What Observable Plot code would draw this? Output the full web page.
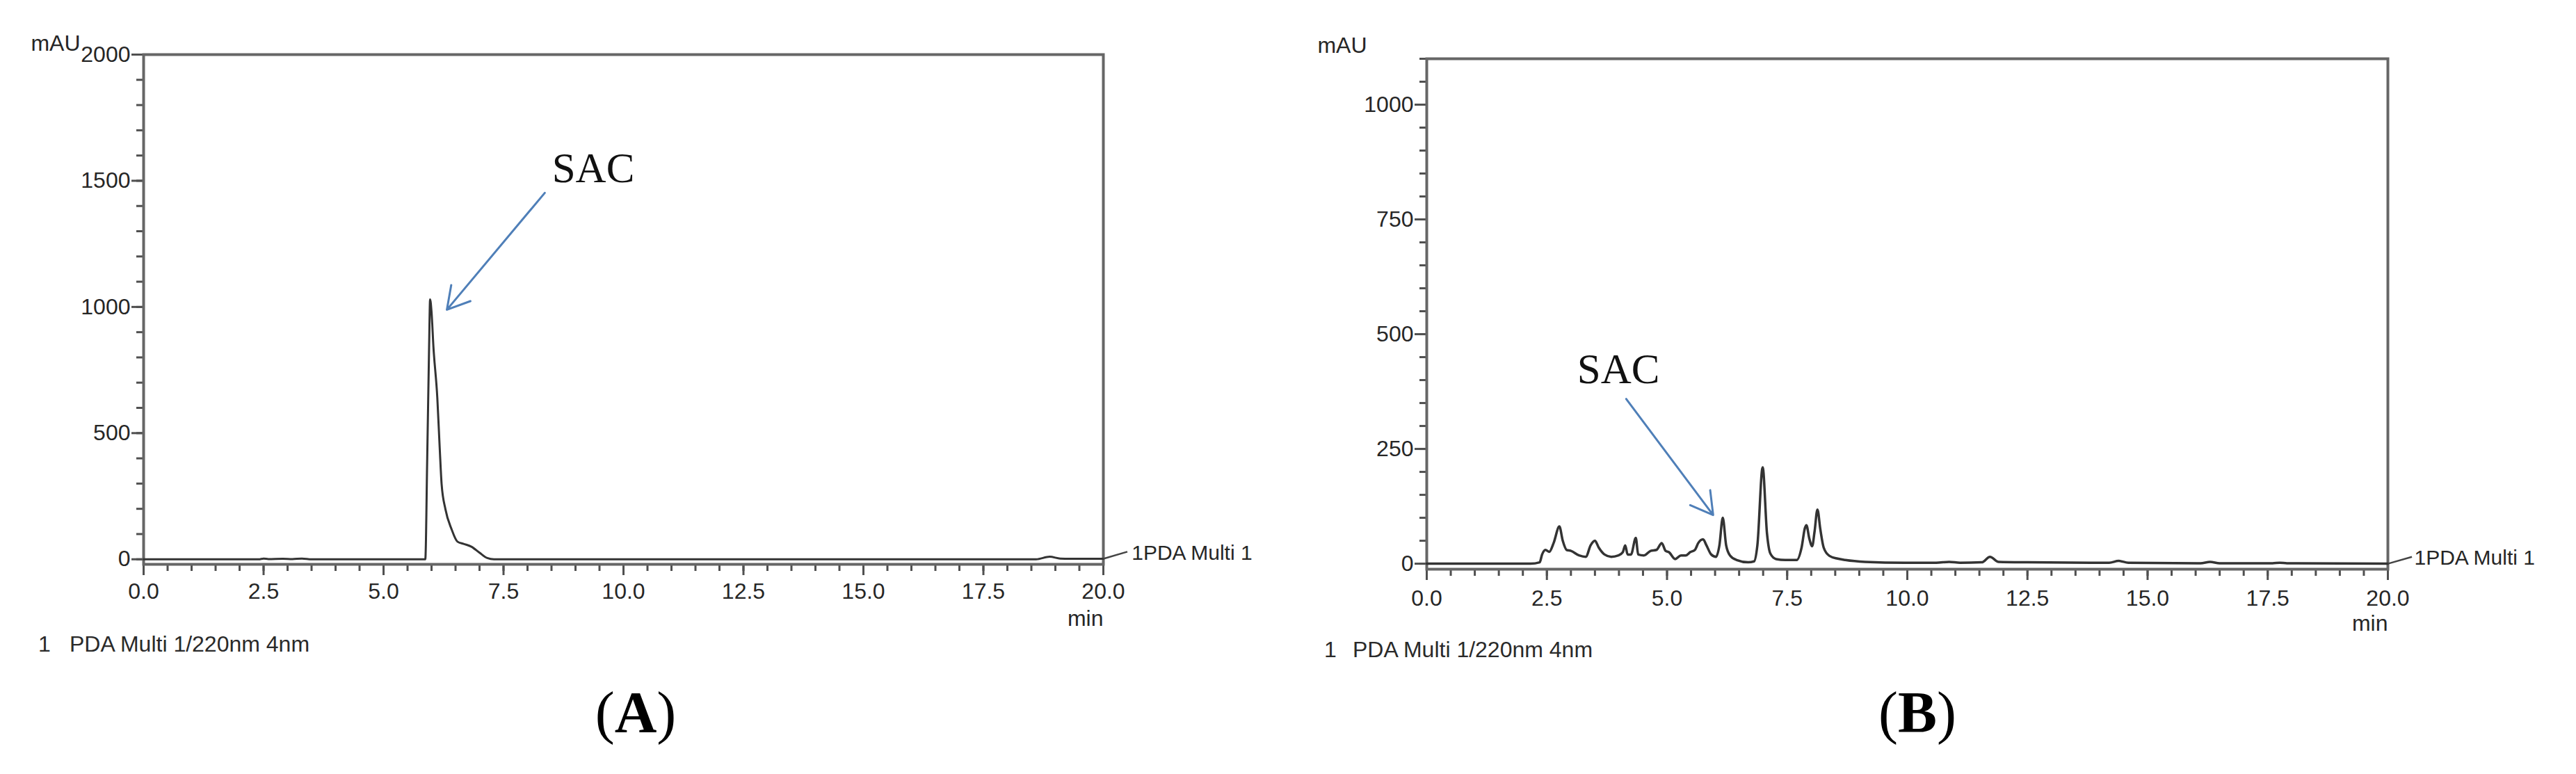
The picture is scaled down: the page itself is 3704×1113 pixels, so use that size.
<!DOCTYPE html>
<html>
<head>
<meta charset="utf-8">
<script src="https://cdn.jsdelivr.net/npm/d3@7"></script>
<script src="https://cdn.jsdelivr.net/npm/@observablehq/plot@0.6"></script>
<style>
  html, body { margin: 0; padding: 0; background: #fff; }
  #fig { position: relative; width: 3704px; height: 1113px; background: #fff; overflow: hidden; }
  .panel { position: absolute; top: 0; }
  .cap { position: absolute; font-family: "Liberation Sans", Arial, sans-serif; font-size: 32px; line-height: 32px; color: #2a2a2a; white-space: pre; }
  .tag { position: absolute; width: 200px; text-align: center; font-family: "Liberation Serif", "Times New Roman", serif; font-size: 84px; line-height: 84px; color: #000; }
  .tag b { font-weight: bold; }
</style>
</head>
<body>
<div id="fig">
  <div id="panelA" class="panel" style="left:0px"></div>
  <div id="panelB" class="panel" style="left:1850px"></div>
  <div class="cap" style="left:55px;top:910px">1</div>
  <div class="cap" style="left:100px;top:910px">PDA Multi 1/220nm 4nm</div>
  <div class="cap" style="left:1904px;top:918px">1</div>
  <div class="cap" style="left:1945px;top:918px">PDA Multi 1/220nm 4nm</div>
  <div class="tag" style="left:814px;top:983px">(<b>A</b>)</div>
  <div class="tag" style="left:2657px;top:983px">(<b>B</b>)</div>
</div>
<script>
// ---------- data ----------
// Panel A: retention time (min) and absorbance (mAU)
const timeA  = [0, 2.4, 2.5, 2.6, 2.9, 3.1, 3.3, 3.5, 5.87, 5.91, 5.95, 5.97, 6.0, 6.04, 6.12, 6.17, 6.21, 6.29, 6.42, 6.54, 6.67, 6.83, 7.0, 7.16, 7.3, 18.6, 18.88, 19.1, 19.3, 20];
const valueA = [0, 0, 3, 1, 2, 1, 3, 0, 0, 400, 850, 1030, 980, 840, 641, 443, 298, 198, 118, 70, 61, 50, 26, 5, 0, 0, 10, 3, 2, 2];

// Panel B
const timeB  = [0, 2.16, 2.35, 2.40, 2.47, 2.55, 2.64, 2.76, 2.83, 2.91, 3.0, 3.17, 3.31, 3.41, 3.50, 3.58, 3.70, 3.84, 3.99, 4.08, 4.13, 4.18, 4.25, 4.35, 4.40, 4.52, 4.66, 4.78, 4.89, 4.97, 5.04, 5.17, 5.29, 5.39, 5.48, 5.58, 5.65, 5.75, 5.82, 5.92, 6.02, 6.09, 6.16, 6.23, 6.31, 6.45, 6.69, 6.81, 6.88, 6.99, 7.08, 7.15, 7.27, 7.46, 7.70, 7.80, 7.87, 7.90, 7.96, 8.02, 8.07, 8.13, 8.19, 8.26, 8.38, 8.55, 8.71, 9.12, 9.95, 10.6, 10.87, 11.1, 11.55, 11.72, 11.9, 12.5, 14.2, 14.4, 14.6, 16.1, 16.3, 16.5, 17.6, 17.75, 17.9, 20];
const valueB = [0, 0, 3, 20, 30, 26, 45, 81, 50, 30, 28, 18, 15, 40, 50, 35, 20, 15, 18, 25, 40, 20, 20, 56, 20, 18, 28, 30, 45, 28, 25, 10, 18, 18, 25, 30, 45, 53, 40, 20, 15, 40, 100, 40, 18, 8, 3, 5, 40, 210, 66, 22, 10, 8, 8, 35, 78, 84, 55, 38, 70, 118, 75, 35, 17, 11, 8, 4, 2, 2, 4, 2, 3, 15, 4, 3, 2, 6, 2, 1, 4, 1, 1, 2, 1, 0];

// Axis ticks
const xMajorTicks = [0, 2.5, 5, 7.5, 10, 12.5, 15, 17.5, 20];
const yMajorTicksA = [0, 500, 1000, 1500, 2000];
const yMajorTicksB = [0, 250, 500, 750, 1000];
const yDomainA = [-20, 2000];
const yDomainB = [-12, 1100];

// Annotations (data units)
const sacLabelA = [8.51, 1493];
const sacArrowA = [8.36, 1452, 6.32, 989];
const sacLabelB = [3.13, 394];
const sacArrowB = [4.15, 359, 5.96, 106];
const traceName = "1PDA Multi 1";
const unitY = "mAU";
const unitX = "min";

// ---------- drawing ----------
const dataA = timeA.map((t, i) => ({t, v: valueA[i]}));
const dataB = timeB.map((t, i) => ({t, v: valueB[i]}));

const FONT = "Liberation Sans, Arial, sans-serif";
const INK = "#262626";
const TICK = "#505050";

function panel({data, yDomain, yMajor, yMinorStep, width, marginLeft, marginRight, marginTop, marginBottom,
                tickPadX, sacLabel, sacArrow, lineWidth, leaderEnd, labelPos, mauDx, mauDy}) {
  const yMinor = d3.range(0, yDomain[1] + 0.001, yMinorStep);
  const xMinor = d3.range(0, 20.001, 0.5);
  return Plot.plot({
    width, height: 910,
    marginLeft, marginRight, marginTop, marginBottom,
    x: {domain: [0, 20], label: null},
    y: {domain: yDomain, label: null},
    style: {fontFamily: FONT, fontSize: "32px", color: INK, background: "white", overflow: "visible"},
    marks: [
      Plot.axisY({ticks: yMinor, tickSize: 10, tickFormat: () => "", stroke: TICK, strokeWidth: 3}),
      Plot.axisY({ticks: yMajor, tickSize: 17, tickPadding: 2, tickFormat: d => String(d), stroke: TICK, strokeWidth: 3, fill: INK, fontSize: 32}),
      Plot.axisX({ticks: xMinor, tickSize: 10, tickFormat: () => "", stroke: TICK, strokeWidth: 3}),
      Plot.axisX({ticks: xMajorTicks, tickSize: 16, tickPadding: tickPadX, tickFormat: d3.format(".1f"), stroke: TICK, strokeWidth: 3, fill: INK, fontSize: 32}),
      Plot.frame({stroke: "#666", strokeWidth: 4}),
      Plot.line(data, {x: "t", y: "v", stroke: "#333", strokeWidth: lineWidth, curve: "monotone-x"}),
      Plot.link([0], {x1: () => 20, y1: () => data[data.length - 1].v, x2: () => leaderEnd[0], y2: () => leaderEnd[1], stroke: "#444", strokeWidth: 2.5}),
      Plot.text([traceName], {x: () => labelPos[0], y: () => labelPos[1], text: d => d, textAnchor: "start", lineAnchor: "middle", fontSize: 30, fill: INK}),
      Plot.arrow([sacArrow], {x1: d => d[0], y1: d => d[1], x2: d => d[2], y2: d => d[3], stroke: "#4f7fb8", strokeWidth: 3, headLength: 18, headAngle: 60}),
      Plot.text([sacLabel], {x: d => d[0], y: d => d[1], text: () => "SAC", textAnchor: "start", lineAnchor: "bottom", fontFamily: "Liberation Serif, Times New Roman, serif", fontSize: 61, fill: "#111"}),
      Plot.text([unitY], {text: d => d, frameAnchor: "top-left", textAnchor: "end", lineAnchor: "bottom", dx: mauDx, dy: mauDy, fontSize: 32, fill: INK}),
      Plot.text([unitX], {text: d => d, frameAnchor: "bottom-right", textAnchor: "end", lineAnchor: "bottom", dy: 88, fontSize: 32, fill: INK})
    ]
  });
}

document.getElementById("panelA").append(panel({
  data: dataA, yDomain: yDomainA, yMajor: yMajorTicksA, yMinorStep: 100,
  width: 1850, marginLeft: 206, marginRight: 264, marginTop: 78, marginBottom: 99,
  tickPadX: 11, sacLabel: sacLabelA, sacArrow: sacArrowA, lineWidth: 3,
  leaderEnd: [20.5, 30], labelPos: [20.59, 24], mauDx: -91, mauDy: -6
}));

document.getElementById("panelB").append(panel({
  data: dataB, yDomain: yDomainB, yMajor: yMajorTicksB, yMinorStep: 50,
  width: 1854, marginLeft: 201, marginRight: 271, marginTop: 84, marginBottom: 92,
  tickPadX: 14, sacLabel: sacLabelB, sacArrow: sacArrowB, lineWidth: 3.5,
  leaderEnd: [20.5, 15], labelPos: [20.55, 12], mauDx: -86, mauDy: -9
}));
</script>
</body>
</html>
